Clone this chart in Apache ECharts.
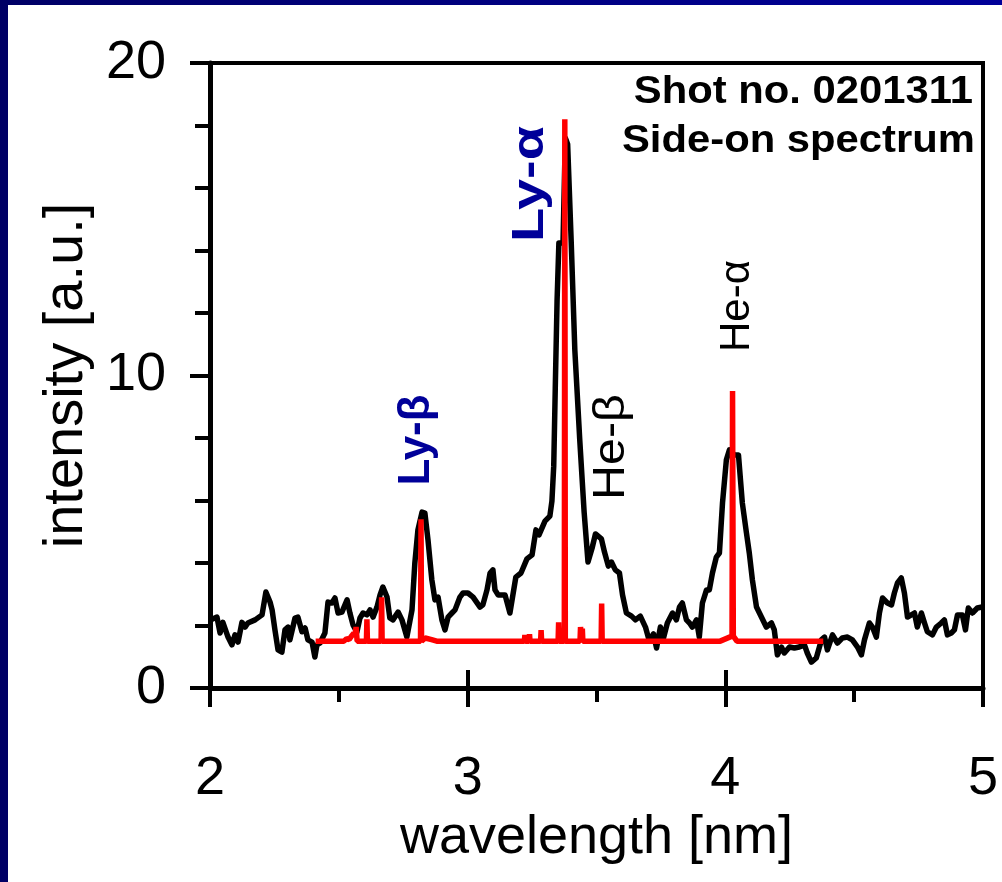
<!DOCTYPE html>
<html>
<head>
<meta charset="utf-8">
<script src="https://cdn.jsdelivr.net/npm/echarts@6/dist/echarts.min.js"></script>
<style>
html,body{margin:0;padding:0;background:#fff;}
#chart{width:1002px;height:882px;}
</style>
</head>
<body>
<div id="chart"></div>
<script>
// ---- data ----
const xTicks = [2, 3, 4, 5];
const yTicks = [0, 10, 20];
const innerTickValues = [3, 4];
const measuredX = [2.000,2.008,2.027,2.039,2.050,2.070,2.085,2.097,2.109,2.124,2.136,2.147,2.175,2.202,2.217,2.233,2.241,2.252,2.264,2.279,2.291,2.303,2.310,2.330,2.341,2.357,2.369,2.380,2.396,2.407,2.415,2.427,2.446,2.458,2.473,2.485,2.497,2.512,2.532,2.543,2.555,2.570,2.582,2.594,2.609,2.621,2.633,2.648,2.660,2.671,2.687,2.698,2.710,2.730,2.745,2.764,2.784,2.795,2.807,2.823,2.834,2.846,2.861,2.873,2.885,2.900,2.912,2.924,2.939,2.951,2.970,2.982,3.001,3.021,3.048,3.059,3.075,3.087,3.098,3.106,3.118,3.145,3.164,3.187,3.207,3.230,3.250,3.265,3.277,3.300,3.319,3.327,3.334,3.340,3.347,3.354,3.370,3.379,3.388,3.402,3.416,3.435,3.452,3.467,3.483,3.496,3.519,3.531,3.546,3.558,3.573,3.589,3.601,3.616,3.636,3.651,3.670,3.690,3.705,3.721,3.733,3.748,3.760,3.775,3.795,3.810,3.822,3.833,3.849,3.861,3.872,3.888,3.899,3.911,3.927,3.938,3.950,3.965,3.977,3.989,4.004,4.016,4.035,4.051,4.066,4.082,4.093,4.105,4.121,4.140,4.159,4.179,4.190,4.202,4.218,4.229,4.249,4.268,4.287,4.307,4.318,4.334,4.353,4.373,4.385,4.396,4.416,4.435,4.454,4.474,4.493,4.513,4.528,4.540,4.559,4.571,4.586,4.598,4.610,4.629,4.645,4.656,4.668,4.683,4.695,4.707,4.722,4.734,4.745,4.761,4.773,4.784,4.804,4.819,4.838,4.850,4.862,4.877,4.889,4.901,4.920,4.932,4.943,4.959,4.978,4.996];
const measuredY = [2.18,2.20,2.27,1.76,2.10,1.63,1.38,1.70,1.47,2.10,1.95,2.08,2.18,2.34,3.07,2.75,2.50,1.86,1.22,1.15,1.86,1.95,1.54,2.24,2.27,1.80,1.92,1.54,1.47,0.99,1.38,1.44,1.76,2.75,2.72,2.88,2.40,2.43,2.82,2.40,2.02,1.79,2.24,2.40,2.34,2.50,2.27,2.59,2.98,3.23,2.91,2.24,2.18,2.43,2.18,1.63,2.50,4.00,5.06,5.63,5.60,4.74,3.46,2.82,2.91,2.18,1.86,2.27,2.40,2.50,2.91,3.04,3.04,2.91,2.59,2.66,3.14,3.68,3.78,3.14,2.98,2.98,2.40,3.55,3.68,4.13,4.26,5.06,4.90,5.34,5.50,5.98,7.10,9.60,12.40,14.24,14.24,17.60,17.40,14.24,10.80,7.94,5.63,4.03,4.48,4.93,4.77,4.35,3.90,4.03,3.78,3.68,2.98,2.40,2.30,2.18,2.30,1.95,1.50,1.73,1.28,1.95,1.60,2.08,2.40,2.18,2.59,2.72,2.18,2.08,1.95,2.18,1.63,2.72,3.14,3.14,3.68,4.19,4.32,5.92,7.30,7.62,7.46,7.46,5.92,4.96,4.32,3.46,2.59,2.27,1.95,2.08,1.86,1.06,1.31,1.12,1.31,1.28,1.31,1.38,1.12,0.83,0.96,1.54,1.63,1.22,1.70,1.44,1.60,1.63,1.54,1.31,1.06,1.54,2.08,1.95,1.63,2.40,2.88,2.72,2.66,3.04,3.36,3.52,3.04,2.27,2.34,2.40,1.95,2.40,2.08,1.80,1.70,1.95,2.08,2.18,1.70,1.76,1.86,2.34,2.34,1.86,2.56,2.40,2.56,2.59];
const simulatedX = [2.41,2.52,2.53,2.54,2.548,2.553,2.558,2.562,2.567,2.571,2.607,2.609,2.611,2.664,2.666,2.668,2.817,2.819,2.821,2.835,2.86,2.88,3.22,3.222,3.224,3.238,3.24,3.242,3.283,3.285,3.287,3.351,3.353,3.355,3.375,3.377,3.379,3.436,3.438,3.44,3.445,3.447,3.518,3.52,3.522,3.98,4.026,4.028,4.031,4.045,4.38];
const simulatedY = [1.5,1.5,1.58,1.55,1.65,1.6,1.75,1.65,1.95,1.5,1.5,2.2,1.5,1.5,2.9,1.5,1.5,5.4,1.5,1.6,1.55,1.5,1.5,1.7,1.5,1.5,1.72,1.5,1.5,1.85,1.5,1.5,2.1,1.5,1.5,18.2,1.5,1.5,1.95,1.75,1.9,1.5,1.5,2.7,1.5,1.5,1.66,9.5,1.66,1.5,1.5];
const infoLines = ['Shot no. 0201311', 'Side-on spectrum'];
const xName = 'wavelength [nm]';
const yName = 'intensity [a.u.]';

const measured = measuredX.map((x, i) => [x, measuredY[i]]);
const simulated = simulatedX.map((x, i) => [x, simulatedY[i]]);

const FONT = "'Liberation Sans', Arial, sans-serif";
const chart = echarts.init(document.getElementById('chart'), null, {renderer: 'canvas'});

function rotLabel(text, x, y, font, color, stretch) {
  return {type: 'text', x: x, y: y, rotation: Math.PI / 2, scaleX: stretch, scaleY: 1,
    style: {text: text, font: font, fill: color, align: 'center', verticalAlign: 'middle'}, z: 50};
}

// inner part of the major x ticks, height expressed in y-axis units (18 px)
const INNER_TICK = 18 * 20 / 625;
const innerTicks = innerTickValues.map(v => [{coord: [v, 0]}, {coord: [v, INNER_TICK]}]);

const option = {
  animation: false,
  backgroundColor: '#fff',
  grid: {left: 210, right: 19, top: 63, bottom: 194, outerBoundsMode: 'none', containLabel: false,
    show: true, borderColor: '#000', borderWidth: 4, backgroundColor: 'transparent'},
  xAxis: {
    type: 'value', min: 2, max: 5, interval: 1,
    axisLine: {show: true, lineStyle: {color: '#000', width: 5}},
    axisTick: {show: true, length: 19, lineStyle: {color: '#000', width: 4}},
    minorTick: {show: true, splitNumber: 2, length: 14, lineStyle: {color: '#000', width: 4}},
    splitLine: {show: false},
    axisLabel: {color: '#000', fontSize: 54, fontFamily: FONT, margin: 64,
      formatter: v => (xTicks.indexOf(v) >= 0 ? String(v) : '')},
    name: xName, nameLocation: 'middle', nameGap: 123,
    nameTextStyle: {color: '#000', fontSize: 54, fontFamily: FONT}
  },
  yAxis: {
    type: 'value', min: 0, max: 20, interval: 10,
    axisLine: {show: true, lineStyle: {color: '#000', width: 5}},
    axisTick: {show: true, length: 20, lineStyle: {color: '#000', width: 4}},
    minorTick: {show: true, splitNumber: 5, length: 15, lineStyle: {color: '#000', width: 4}},
    splitLine: {show: false},
    axisLabel: {color: '#000', fontSize: 54, fontFamily: FONT, margin: 44,
      formatter: v => (yTicks.indexOf(v) >= 0 ? String(v) : '')},
    name: yName, nameLocation: 'middle', nameGap: 106, nameRotate: 90,
    nameTextStyle: {color: '#000', fontSize: 56, fontFamily: FONT}
  },
  series: [{
    name: 'measured', type: 'line', data: measured, showSymbol: false, z: 3,
    lineStyle: {color: '#000', width: 5.5, join: 'round'}, itemStyle: {color: '#000'},
    markLine: {silent: true, symbol: ['none', 'none'], label: {show: false},
      lineStyle: {color: '#000', width: 4, type: 'solid'}, emphasis: {disabled: true},
      data: innerTicks}
  }, {
    name: 'simulated', type: 'line', data: simulated, showSymbol: false, z: 4,
    lineStyle: {color: '#ff0000', width: 5.5}, itemStyle: {color: '#ff0000'}
  }],
  graphic: [
    {type: 'rect', shape: {x: 0, y: 0, width: 8, height: 882}, style: {fill: '#000066'}, z: 100},
    {type: 'rect', shape: {x: 0, y: 0, width: 1002, height: 5},
      style: {fill: new echarts.graphic.LinearGradient(0, 0, 1, 0, [{offset: 0, color: '#000066'}, {offset: 1, color: '#000099'}])}, z: 100},
    {type: 'text', x: 973, y: 93, scaleX: 1.1, style: {text: infoLines[0], font: "bold 38px " + FONT, fill: '#000', align: 'right', verticalAlign: 'middle'}, z: 50},
    {type: 'text', x: 975, y: 142, scaleX: 1.1, style: {text: infoLines[1], font: "bold 38px " + FONT, fill: '#000', align: 'right', verticalAlign: 'middle'}, z: 50},
    rotLabel('Ly-\u03b1', 531, 184, "bold 45px " + FONT, '#000099', 1.24),
    rotLabel('Ly-\u03b2', 417, 440, "bold 44px " + FONT, '#000099', 1.0),
    rotLabel('He-\u03b2', 612, 447, "44px " + FONT, '#000', 1.1),
    rotLabel('He-\u03b1', 737, 306, "42px " + FONT, '#000', 1.0)
  ]
};
chart.setOption(option);
</script>
</body>
</html>
